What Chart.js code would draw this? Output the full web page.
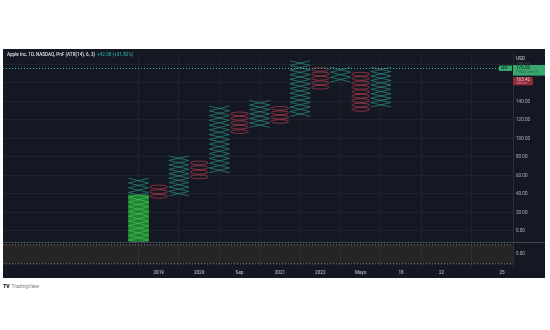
<!DOCTYPE html>
<html>
<head>
<meta charset="utf-8">
<script src="https://cdn.jsdelivr.net/npm/chart.js@4.4.0/dist/chart.umd.min.js"></script>
<style>
  body { margin: 0; background: #fff; width: 550px; height: 330px; position: relative; overflow: hidden; font-family: Roboto, "Noto Sans", sans-serif; }
  #panel { position: absolute; left: 3px; top: 49px; width: 542px; height: 229px; background: #141823; }
  #panel canvas { position: absolute; left: 0; top: 0; }
  #title { position: absolute; left: 4px; top: 3px; font-size: 4.6px; line-height: 6px; color: #e0e3eb; font-weight: 500; white-space: nowrap; }
  #title .chg { color: #26a69a; margin-left: 2px; }
  #brand { position: absolute; left: 3px; top: 283px; font-size: 5px; color: #787b86; white-space: nowrap; }
  #brand b { color: #131722; font-weight: 900; margin-right: 2px; }
</style>
</head>
<body>
<div id="panel">
  <canvas id="pnf" width="542" height="229"></canvas>
  <div id="title">Apple Inc, 1D, NASDAQ, PnF (ATR(14), 6, 3)<span class="chg">+42.00 (+31.82%)</span></div>
</div>
<div id="brand"><b>TV</b>TradingView</div>
<script>
// point & figure columns, left to right (USD)
const colType = ['X', 'O', 'X', 'O', 'X', 'O', 'X', 'O', 'X', 'O', 'X', 'O', 'X'];
const colLow  = [-15, 35, 38, 56, 63, 105, 112, 116, 124, 153, 161, 129, 134];
const colHigh = [57, 50, 81, 76, 135, 129, 141, 135, 184, 177, 177, 172, 177];
const boxSize = 5;

// green block behind the first column
const highlightCol = 0;
const highlightRange = [-15, 39];

// time scale labels (column index -> label)
const timePos = [1, 3, 5, 7, 9, 11, 13, 15, 18];
const timeLabels = ['2019', '2020', 'Sep', '2021', '2022', 'Mayo', '18', '22', '25'];

const priceTicks = [0, 20, 40, 60, 80, 100, 120, 140, 160, 180];
const lastPrice = 176.00;
const prevPrice = 163.42;

// lower pane band levels
const bandLevels = [0.75, -0.75];

const X_MIN = -6.71, X_MAX = 18.54;
const Y_MIN = -11.6, Y_MAX = 190.5;

const xColor = '#2b867b';
const oColor = '#ad3a4a';
const axisText = '#b2b5be';
const gridColor = '#1f2330';
const FONT = 'Roboto';

// clip column datasets to the main pane
const paneClip = {
  id: 'paneClip',
  beforeDatasetDraw(chart, args) {
    if (args.meta.yAxisID !== 'y') return;
    const { ctx, chartArea } = chart;
    const y = chart.scales.y;
    ctx.save();
    ctx.beginPath();
    ctx.rect(chartArea.left, y.top, chartArea.right - chartArea.left, y.bottom - y.top);
    ctx.clip();
  },
  afterDatasetDraw(chart, args) {
    if (args.meta.yAxisID !== 'y') return;
    chart.ctx.restore();
  }
};

// X and O boxes for one column bar
function drawBoxes(ctx, bar, i, color) {
  const p = bar.getProps(['x', 'y', 'base', 'width'], true);
  const top = Math.min(p.y, p.base), bottom = Math.max(p.y, p.base);
  const n = Math.max(1, Math.round((colHigh[i] - colLow[i]) / boxSize));
  const h = (bottom - top) / n;
  const l = p.x - p.width / 2, r = p.x + p.width / 2;
  ctx.beginPath();
  for (let k = 0; k < n; k++) {
    const t = top + k * h, b = t + h;
    if (colType[i] === 'X') {
      ctx.moveTo(l, t); ctx.lineTo(r, b);
      ctx.moveTo(l, b); ctx.lineTo(r, t);
    } else {
      const rx = p.width * 0.44, ry = Math.max(0.5, h / 2 - 0.4);
      ctx.moveTo(p.x + rx, t + h / 2);
      ctx.ellipse(p.x, t + h / 2, rx, ry, 0, 0, Math.PI * 2);
    }
  }
  ctx.lineWidth = 0.75;
  ctx.strokeStyle = color;
  ctx.stroke();
}

const pnfMarks = {
  id: 'pnfMarks',
  beforeDatasetsDraw(chart) {
    const { ctx, chartArea } = chart;
    const y = chart.scales.y;
    const meta = chart.getDatasetMeta(1);
    ctx.save();
    ctx.beginPath();
    ctx.rect(chartArea.left, y.top, chartArea.right - chartArea.left, y.bottom - y.top);
    ctx.clip();
    meta.data.forEach((bar, i) => drawBoxes(ctx, bar, i, colType[i] === 'X' ? xColor : oColor));
    ctx.restore();
  },
  afterDatasetsDraw(chart) {
    const { ctx, chartArea } = chart;
    const y = chart.scales.y;
    // X pattern showing through the green block
    ctx.save();
    const hl = chart.getDatasetMeta(0).data[0];
    const hp = hl.getProps(['x', 'y', 'base', 'width'], true);
    ctx.beginPath();
    ctx.rect(hp.x - hp.width / 2, Math.min(hp.y, hp.base), hp.width, Math.min(y.bottom, Math.max(hp.y, hp.base)) - Math.min(hp.y, hp.base));
    ctx.clip();
    drawBoxes(ctx, chart.getDatasetMeta(1).data[highlightCol], highlightCol, 'rgba(120,220,130,0.45)');
    ctx.restore();

    // last price dotted line
    const yl = Math.round(y.getPixelForValue(lastPrice)) + 0.5;
    ctx.save();
    ctx.strokeStyle = '#4fb3a5';
    ctx.lineWidth = 1;
    ctx.setLineDash([1, 2]);
    ctx.beginPath();
    ctx.moveTo(chartArea.left, yl);
    ctx.lineTo(chartArea.right, yl);
    ctx.stroke();
    // pane separator
    ctx.setLineDash([]);
    ctx.strokeStyle = '#434651';
    ctx.beginPath();
    ctx.moveTo(0, Math.round(y.bottom) + 0.5);
    ctx.lineTo(chart.width, Math.round(y.bottom) + 0.5);
    ctx.stroke();
    ctx.restore();
  },
  afterDraw(chart) {
    const { ctx, chartArea } = chart;
    const y = chart.scales.y;
    const ax = chartArea.right;
    const w = chart.width - ax;
    ctx.save();
    ctx.textBaseline = 'middle';
    ctx.textAlign = 'left';
    ctx.font = '4.8px ' + FONT;
    ctx.fillStyle = '#d1d4dc';
    ctx.fillText('USD', ax + 3, y.top + 4.5);

    const yl = y.getPixelForValue(lastPrice);
    const yp = y.getPixelForValue(prevPrice);
    // previous close badge
    ctx.fillStyle = '#8f2a38';
    ctx.fillRect(ax, yp - 2.5, 20, 8);
    ctx.fillStyle = '#f0c5cb';
    ctx.font = '4.6px ' + FONT;
    ctx.fillText(prevPrice.toFixed(2), ax + 3, yp);
    ctx.fillStyle = '#c98a94';
    ctx.font = '2.6px ' + FONT;
    ctx.fillText('cierre ant.', ax + 3, yp + 3.6);
    // last price badge
    ctx.fillStyle = '#38a86f';
    ctx.fillRect(ax, yl - 3.2, w, 10.6);
    ctx.fillStyle = '#0e1a14';
    ctx.font = '4.6px ' + FONT;
    ctx.fillText(lastPrice.toFixed(2), ax + 3, yl);
    ctx.fillStyle = '#1f5a3c';
    ctx.font = '2.6px ' + FONT;
    ctx.fillText('17:05:42  cierre 2d', ax + 3, yl + 4.4);
    // symbol tag
    ctx.fillStyle = '#38a86f';
    ctx.fillRect(ax - 14, yl - 2.6, 13, 5.4);
    ctx.fillStyle = '#0e1a14';
    ctx.font = '2.8px ' + FONT;
    ctx.fillText('AAPL', ax - 12, yl + 0.1);
    ctx.restore();
  }
};

const columnData = colLow.map((lo, i) => ({ x: i, y: [lo, colHigh[i]] }));

new Chart(document.getElementById('pnf'), {
  type: 'bar',
  data: {
    datasets: [
      {
        label: 'highlight',
        data: [{ x: highlightCol, y: highlightRange }],
        yAxisID: 'y',
        backgroundColor: 'rgba(30,150,48,0.85)',
        borderWidth: 0,
        grouped: false,
        barPercentage: 1,
        categoryPercentage: 1
      },
      {
        label: 'columns',
        data: columnData,
        yAxisID: 'y',
        backgroundColor: 'rgba(0,0,0,0)',
        borderWidth: 0,
        grouped: false,
        barPercentage: 1,
        categoryPercentage: 1
      },
      {
        type: 'line',
        label: 'band upper',
        data: [{ x: X_MIN, y: bandLevels[0] }, { x: X_MAX, y: bandLevels[0] }],
        yAxisID: 'y2',
        borderColor: '#8a8d96',
        borderWidth: 1,
        borderDash: [1, 2],
        pointRadius: 0,
        fill: false
      },
      {
        type: 'line',
        label: 'band lower',
        data: [{ x: X_MIN, y: bandLevels[1] }, { x: X_MAX, y: bandLevels[1] }],
        yAxisID: 'y2',
        borderColor: '#8a8d96',
        borderWidth: 1,
        borderDash: [1, 2],
        pointRadius: 0,
        fill: { target: '-1' },
        backgroundColor: 'rgba(110,85,40,0.22)'
      }
    ]
  },
  options: {
    responsive: false,
    animation: false,
    layout: { padding: 0 },
    plugins: {
      legend: { display: false },
      tooltip: { enabled: false }
    },
    scales: {
      x: {
        type: 'linear',
        min: X_MIN,
        max: X_MAX,
        offset: false,
        afterBuildTicks: s => { s.ticks = timePos.map(v => ({ value: v })); },
        afterFit: s => { s.height = 11; },
        ticks: {
          callback: v => timeLabels[timePos.indexOf(v)],
          color: axisText,
          font: { family: FONT, size: 4.6, weight: '500' },
          padding: 3,
          maxRotation: 0,
          autoSkip: false
        },
        grid: { color: gridColor, drawTicks: false },
        border: { display: false }
      },
      y: {
        type: 'linear',
        position: 'right',
        stack: 'pane',
        stackWeight: 192,
        min: Y_MIN,
        max: Y_MAX,
        afterBuildTicks: s => { s.ticks = priceTicks.map(v => ({ value: v })); },
        afterFit: s => { s.width = 32; },
        ticks: {
          callback: v => v.toFixed(2),
          color: c => (c.tick && c.tick.value === 180) ? '#4a4e5a' : axisText,
          font: { family: FONT, size: 4.6 },
          padding: 3
        },
        grid: { color: gridColor, drawTicks: false },
        border: { color: '#2a2e39' }
      },
      y2: {
        type: 'linear',
        position: 'right',
        stack: 'pane',
        stackWeight: 26,
        min: -1,
        max: 1,
        afterBuildTicks: s => { s.ticks = [{ value: 0 }]; },
        afterFit: s => { s.width = 32; },
        ticks: {
          callback: v => v.toFixed(2),
          color: axisText,
          font: { family: FONT, size: 4.6 },
          padding: 3
        },
        grid: { display: false, drawTicks: false },
        border: { color: '#2a2e39' }
      }
    }
  },
  plugins: [paneClip, pnfMarks]
});
</script>
</body>
</html>
